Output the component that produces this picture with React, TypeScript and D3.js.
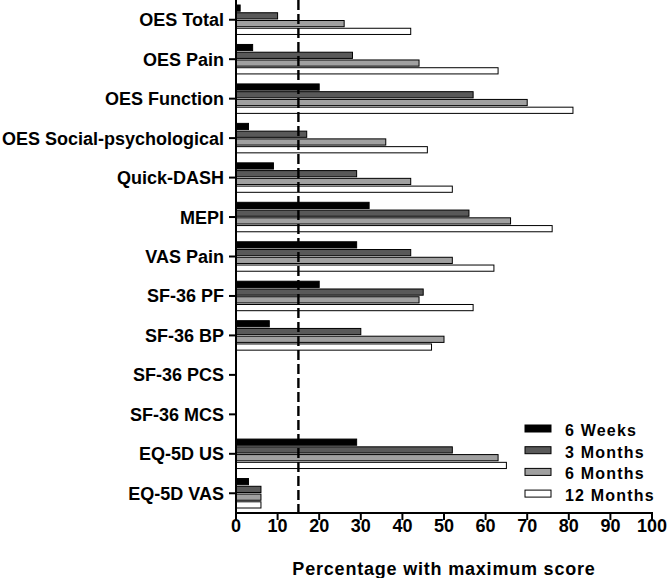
import React from "react";
import * as d3 from "d3";

const categories = [
  "OES Total",
  "OES Pain",
  "OES Function",
  "OES Social-psychological",
  "Quick-DASH",
  "MEPI",
  "VAS Pain",
  "SF-36 PF",
  "SF-36 BP",
  "SF-36 PCS",
  "SF-36 MCS",
  "EQ-5D US",
  "EQ-5D VAS",
];

const seriesNames = ["6 Weeks", "3 Months", "6 Months", "12 Months"];
const seriesColors = ["#000000", "#595959", "#a0a0a0", "#ffffff"];

const weeks6: (number | null)[] = [1, 4, 20, 3, 9, 32, 29, 20, 8, null, null, 29, 3];
const months3: (number | null)[] = [10, 28, 57, 17, 29, 56, 42, 45, 30, null, null, 52, 6];
const months6: (number | null)[] = [26, 44, 70, 36, 42, 66, 52, 44, 50, null, null, 63, 6];
const months12: (number | null)[] = [42, 63, 81, 46, 52, 76, 62, 57, 47, null, null, 65, 6];

const seriesValues = [weeks6, months3, months6, months12];

const xTicks = [0, 10, 20, 30, 40, 50, 60, 70, 80, 90, 100];
const threshold = 15;

const W = 667;
const H = 578;
const left = 236;
const right = 652;
const top = 0;
const bottom = 513;

export default function App() {
  const x = d3.scaleLinear().domain([0, 100]).range([left, right]);
  const y = d3.scaleBand<string>().domain(categories).range([top, bottom]).padding(0);
  const inner = d3
    .scaleBand<string>()
    .domain(seriesNames)
    .range([5, y.bandwidth() - 5])
    .paddingInner(0.2);
  const font = "'Liberation Sans', Arial, Helvetica, sans-serif";

  return (
    <svg
      width={W}
      height={H}
      style={{ position: "absolute", left: 0, top: 0, background: "#fff" }}
      fontFamily={font}
    >
      {/* bars */}
      {categories.map((c, ci) => (
        <g key={c} transform={`translate(0,${y(c)})`}>
          {seriesNames.map((s, si) => {
            const v = seriesValues[si][ci];
            if (v == null) return null;
            return (
              <rect
                key={s}
                x={x(0)}
                y={inner(s)!}
                width={x(v) - x(0)}
                height={inner.bandwidth()}
                fill={seriesColors[si]}
                stroke="#000"
                strokeWidth={1}
              />
            );
          })}
        </g>
      ))}

      {/* threshold dashed line */}
      <line
        x1={x(threshold)}
        x2={x(threshold)}
        y1={top}
        y2={bottom}
        stroke="#000"
        strokeWidth={2.4}
        strokeDasharray="10,4"
      />

      {/* y axis */}
      <line x1={left} x2={left} y1={top} y2={bottom + 1} stroke="#000" strokeWidth={2} />
      {categories.map((c) => {
        const cy = y(c)! + y.bandwidth() / 2;
        return (
          <g key={c}>
            <line x1={left - 7} x2={left} y1={cy} y2={cy} stroke="#000" strokeWidth={2} />
            <text
              x={left - 12}
              y={cy}
              dy="0.36em"
              textAnchor="end"
              fontSize={18}
              fontWeight="bold"
              fill="#000"
            >
              {c}
            </text>
          </g>
        );
      })}

      {/* x axis */}
      <line x1={left - 1} x2={right + 1} y1={bottom} y2={bottom} stroke="#000" strokeWidth={2} />
      {xTicks.map((t) => (
        <g key={t}>
          <line x1={x(t)} x2={x(t)} y1={bottom} y2={bottom + 7} stroke="#000" strokeWidth={2} />
          <text
            x={x(t)}
            y={bottom + 19}
            textAnchor="middle"
            fontSize={18}
            fontWeight="bold"
            fill="#000"
          >
            {t}
          </text>
        </g>
      ))}
      <text
        x={(x(0) + x(100)) / 2 + 0}
        y={575}
        textAnchor="middle"
        fontSize={18}
        fontWeight="bold"
        letterSpacing={0.8}
        fill="#000"
      >
        Percentage with maximum score
      </text>

      {/* legend */}
      {seriesNames.map((s, si) => {
        const ly = 425 + si * 21.7;
        return (
          <g key={s}>
            <rect
              x={525}
              y={ly}
              width={26}
              height={7}
              fill={seriesColors[si]}
              stroke="#000"
              strokeWidth={1}
            />
            <text
              x={565}
              y={ly + 10.8}
              fontSize={16}
              fontWeight="bold"
              letterSpacing={1.2}
              fill="#000"
            >
              {s}
            </text>
          </g>
        );
      })}
    </svg>
  );
}
